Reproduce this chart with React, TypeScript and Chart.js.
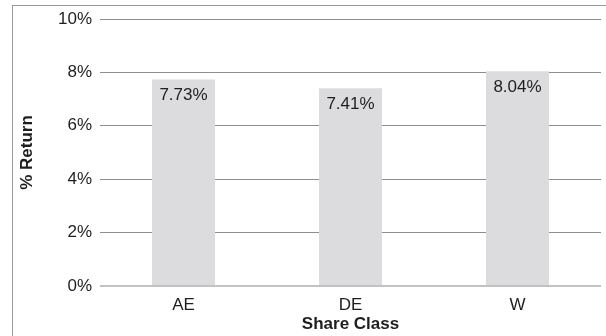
import React, { useEffect, useRef } from "react";
import { Chart, registerables } from "chart.js";

Chart.register(...registerables);

// Share classes and their returns (%)
const shareClasses = ["AE", "DE", "W"];
const returns = [7.73, 7.41, 8.04];
const yTicks = [0, 2, 4, 6, 8, 10];

const FONT = "'Liberation Sans', Arial, Helvetica, sans-serif";
const TEXT = "#1e1e1e";

// Writes each bar's value just inside its top edge
const valueLabels = {
  id: "valueLabels",
  afterDatasetsDraw(chart: any) {
    const { ctx } = chart;
    const meta = chart.getDatasetMeta(0);
    ctx.save();
    ctx.font = `17px ${FONT}`;
    ctx.fillStyle = TEXT;
    ctx.textAlign = "center";
    ctx.textBaseline = "middle";
    meta.data.forEach((bar: any, i: number) => {
      const v = chart.data.datasets[0].data[i] as number;
      ctx.fillText(`${v.toFixed(2)}%`, bar.x, bar.y + 16);
    });
    ctx.restore();
  },
};

export default function App() {
  const canvasRef = useRef<HTMLCanvasElement | null>(null);

  useEffect(() => {
    if (!canvasRef.current) return;
    const chart = new Chart(canvasRef.current, {
      type: "bar",
      data: {
        labels: shareClasses,
        datasets: [
          {
            data: returns,
            backgroundColor: "#dcdcde",
            borderWidth: 0,
            categoryPercentage: 1,
            barPercentage: 0.377,
          },
        ],
      },
      options: {
        animation: false,
        responsive: false,
        maintainAspectRatio: false,
        layout: { padding: { top: 19, right: 5, bottom: 0, left: 0 } },
        plugins: {
          legend: { display: false },
          tooltip: { enabled: false },
        },
        scales: {
          x: {
            grid: { display: false, drawTicks: false },
            border: { display: false },
            ticks: {
              color: TEXT,
              font: { family: FONT, size: 17 },
              padding: 9,
            },
            title: {
              display: true,
              text: "Share Class",
              color: TEXT,
              font: { family: FONT, size: 17, weight: "bold" },
              padding: { top: 0, bottom: 1 },
            },
            afterFit: (scale: any) => {
              scale.height = 50;
            },
          },
          y: {
            min: 0,
            max: 10,
            afterBuildTicks: (scale: any) => {
              scale.ticks = yTicks.map((v) => ({ value: v }));
            },
            grid: {
              drawTicks: false,
              color: (c: any) => (c.tick && c.tick.value === 0 ? "#c2c2c2" : "#8e8e8e"),
              lineWidth: (c: any) => (c.tick && c.tick.value === 0 ? 2 : 1),
            },
            border: { display: false },
            ticks: {
              color: TEXT,
              font: { family: FONT, size: 17 },
              padding: 8,
              callback: (v: any) => `${v}%`,
            },
            title: {
              display: true,
              text: "% Return",
              color: TEXT,
              font: { family: FONT, size: 17, weight: "bold" },
              padding: { top: 17, bottom: 0 },
            },
            afterFit: (scale: any) => {
              scale.width = 100;
            },
          },
        },
      },
      plugins: [valueLabels],
    });
    return () => chart.destroy();
  }, []);

  return (
    <div
      style={{
        position: "fixed",
        left: 0,
        top: 0,
        width: 606,
        height: 336,
        background: "#ffffff",
        overflow: "hidden",
      }}
    >
      <div
        style={{
          position: "absolute",
          left: 12,
          top: 5,
          right: 0,
          bottom: 0,
          borderLeft: "1px solid #9a9a9a",
          borderTop: "1px solid #9a9a9a",
        }}
      />
      <canvas
        ref={canvasRef}
        width={606}
        height={336}
        style={{ position: "absolute", left: 0, top: 0, width: 606, height: 336 }}
      />
    </div>
  );
}
